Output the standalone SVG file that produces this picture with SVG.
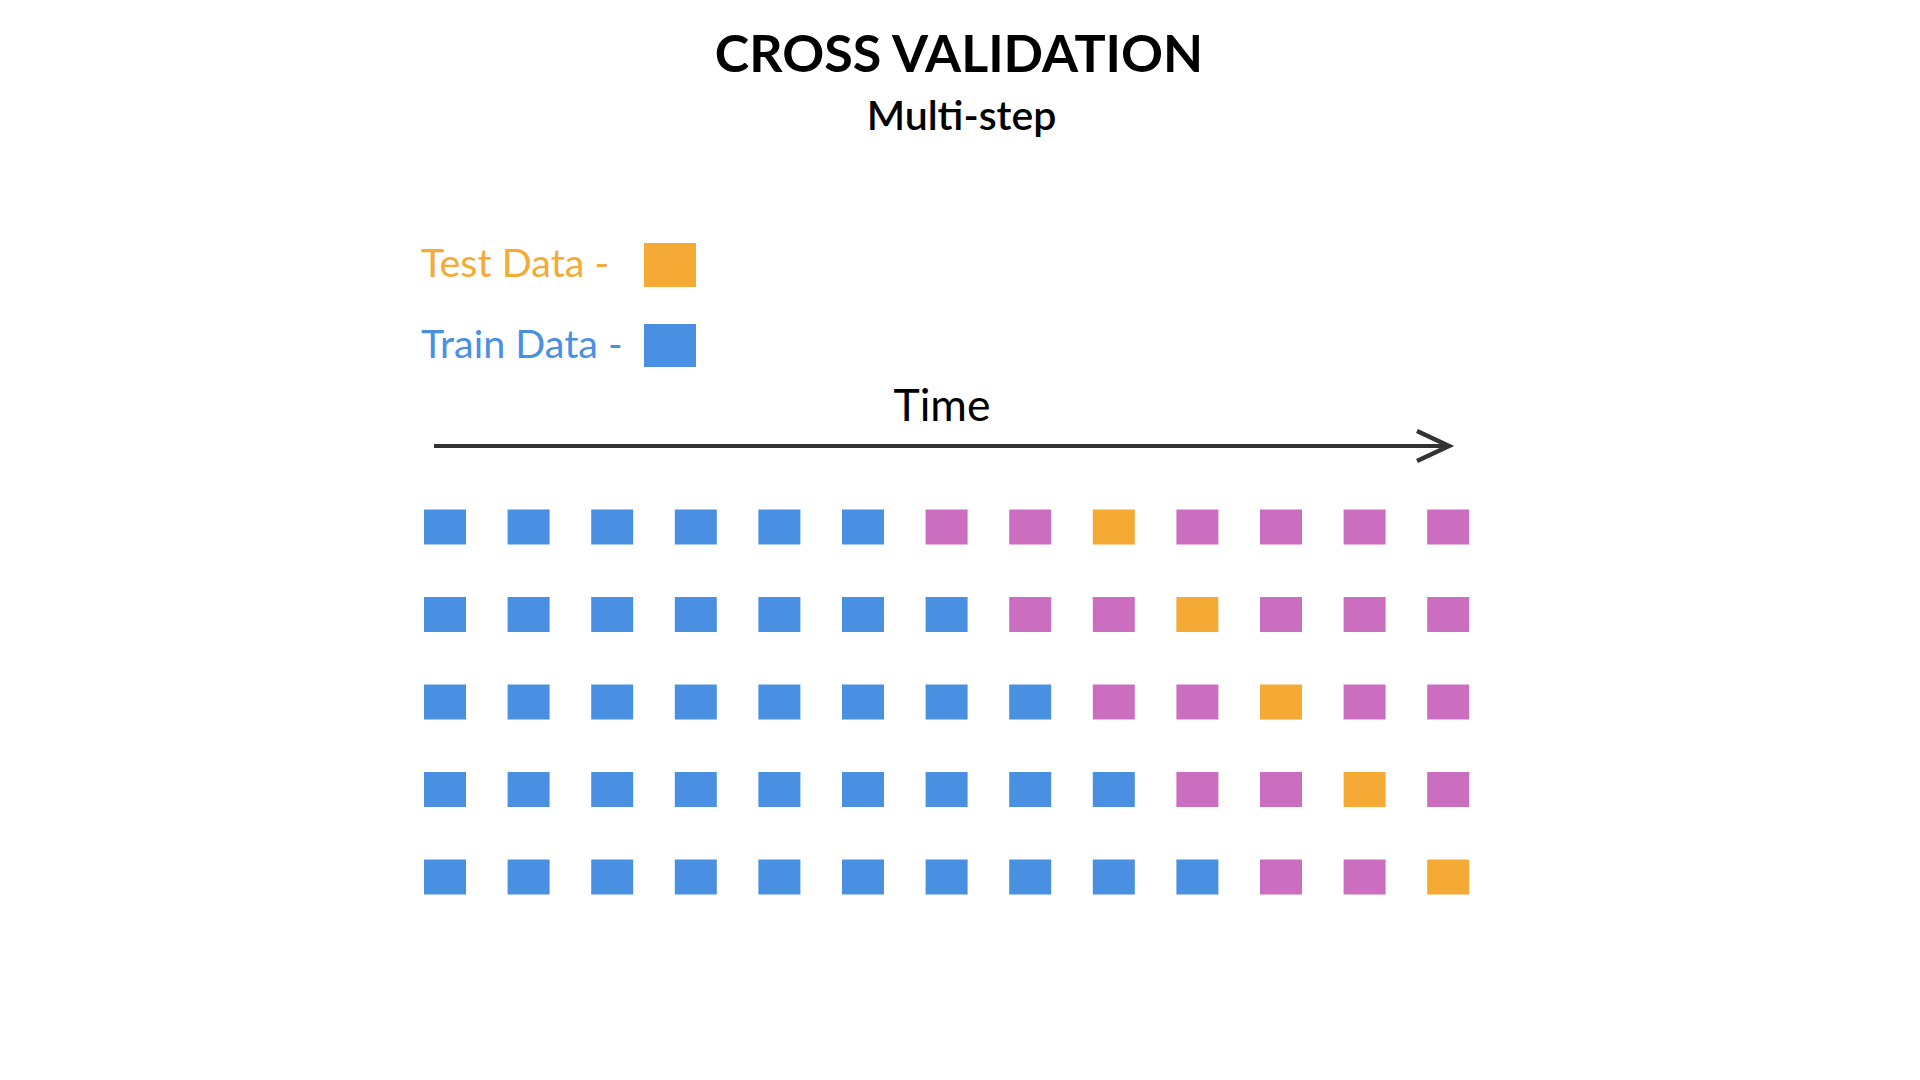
<svg xmlns="http://www.w3.org/2000/svg" width="1920" height="1080" viewBox="0 0 1920 1080">
<defs>
<style>
.t{font-family:Lato,"Noto Sans",sans-serif}
.title{font-size:52px;font-weight:700;fill:#000}
.sub{font-size:41px;font-weight:600;fill:#000}
.time{font-size:44.5px;font-weight:400;fill:#000}
.leg{font-size:39.5px;font-weight:400}
.b{fill:#4A90E2}
.m{fill:#CC6EBF}
.o{fill:#F4AA35}
</style>
</defs>
<rect width="1920" height="1080" fill="#fff"/>
<g id="title">
<text class="t title" x="959" y="72" text-anchor="middle">CROSS VALIDATION</text>
<text class="t sub" x="961.5" y="129.5" text-anchor="middle">Multi-step</text>
</g>
<g id="legend">
<g id="legend-test">
<text class="t leg" x="421" y="277" fill="#F4AA35">Test Data -</text>
<rect class="o" x="644" y="243" width="52" height="44"/>
</g>
<g id="legend-train">
<text class="t leg" x="421" y="357.5" fill="#4A90E2">Train Data -</text>
<rect class="b" x="644" y="324" width="52" height="43"/>
</g>
</g>
<g id="connectors">
<g id="time-axis">
<text class="t time" x="942" y="420.5" text-anchor="middle">Time</text>
<line x1="434" y1="446" x2="1447" y2="446" stroke="#333" stroke-width="4"/>
<polyline points="1417,431 1449,446 1417,461" fill="none" stroke="#333" stroke-width="4.5"/>
</g>
</g>
<g id="row1" transform="translate(0,509.5)">
<rect class="b" x="424" width="42" height="35"/><rect class="b" x="507.6" width="42" height="35"/><rect class="b" x="591.2" width="42" height="35"/><rect class="b" x="674.8" width="42" height="35"/><rect class="b" x="758.4" width="42" height="35"/><rect class="b" x="842" width="42" height="35"/><rect class="m" x="925.6" width="42" height="35"/><rect class="m" x="1009.2" width="42" height="35"/><rect class="o" x="1092.8" width="42" height="35"/><rect class="m" x="1176.4" width="42" height="35"/><rect class="m" x="1260" width="42" height="35"/><rect class="m" x="1343.6" width="42" height="35"/><rect class="m" x="1427.2" width="42" height="35"/>
</g>
<g id="row2" transform="translate(0,597)">
<rect class="b" x="424" width="42" height="35"/><rect class="b" x="507.6" width="42" height="35"/><rect class="b" x="591.2" width="42" height="35"/><rect class="b" x="674.8" width="42" height="35"/><rect class="b" x="758.4" width="42" height="35"/><rect class="b" x="842" width="42" height="35"/><rect class="b" x="925.6" width="42" height="35"/><rect class="m" x="1009.2" width="42" height="35"/><rect class="m" x="1092.8" width="42" height="35"/><rect class="o" x="1176.4" width="42" height="35"/><rect class="m" x="1260" width="42" height="35"/><rect class="m" x="1343.6" width="42" height="35"/><rect class="m" x="1427.2" width="42" height="35"/>
</g>
<g id="row3" transform="translate(0,684.5)">
<rect class="b" x="424" width="42" height="35"/><rect class="b" x="507.6" width="42" height="35"/><rect class="b" x="591.2" width="42" height="35"/><rect class="b" x="674.8" width="42" height="35"/><rect class="b" x="758.4" width="42" height="35"/><rect class="b" x="842" width="42" height="35"/><rect class="b" x="925.6" width="42" height="35"/><rect class="b" x="1009.2" width="42" height="35"/><rect class="m" x="1092.8" width="42" height="35"/><rect class="m" x="1176.4" width="42" height="35"/><rect class="o" x="1260" width="42" height="35"/><rect class="m" x="1343.6" width="42" height="35"/><rect class="m" x="1427.2" width="42" height="35"/>
</g>
<g id="row4" transform="translate(0,772)">
<rect class="b" x="424" width="42" height="35"/><rect class="b" x="507.6" width="42" height="35"/><rect class="b" x="591.2" width="42" height="35"/><rect class="b" x="674.8" width="42" height="35"/><rect class="b" x="758.4" width="42" height="35"/><rect class="b" x="842" width="42" height="35"/><rect class="b" x="925.6" width="42" height="35"/><rect class="b" x="1009.2" width="42" height="35"/><rect class="b" x="1092.8" width="42" height="35"/><rect class="m" x="1176.4" width="42" height="35"/><rect class="m" x="1260" width="42" height="35"/><rect class="o" x="1343.6" width="42" height="35"/><rect class="m" x="1427.2" width="42" height="35"/>
</g>
<g id="row5" transform="translate(0,859.5)">
<rect class="b" x="424" width="42" height="35"/><rect class="b" x="507.6" width="42" height="35"/><rect class="b" x="591.2" width="42" height="35"/><rect class="b" x="674.8" width="42" height="35"/><rect class="b" x="758.4" width="42" height="35"/><rect class="b" x="842" width="42" height="35"/><rect class="b" x="925.6" width="42" height="35"/><rect class="b" x="1009.2" width="42" height="35"/><rect class="b" x="1092.8" width="42" height="35"/><rect class="b" x="1176.4" width="42" height="35"/><rect class="m" x="1260" width="42" height="35"/><rect class="m" x="1343.6" width="42" height="35"/><rect class="o" x="1427.2" width="42" height="35"/>
</g>
</svg>
